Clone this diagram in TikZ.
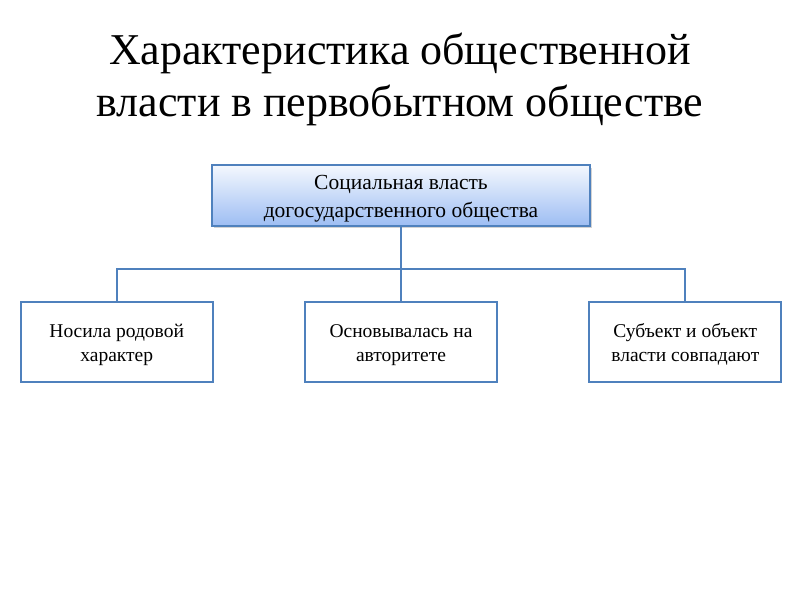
\documentclass[tikz,border=0pt]{standalone}
\usepackage{fontspec}
\setmainfont{Liberation Serif}
\usetikzlibrary{positioning,shadows}

\definecolor{boxline}{HTML}{4F81BD}
\definecolor{boxtop}{HTML}{F4F8FE}
\definecolor{boxbot}{HTML}{9DBDF3}
\newcommand\toppad{\rule{0pt}{1em}}

\begin{document}
\begin{tikzpicture}[x=1pt,y=-1pt,
	every node/.style={font=\fontsize{19.5}{24}\selectfont, align=center},
	rootbox/.style={draw=boxline, line width=1.8pt, minimum width=378pt, minimum height=59pt,
		font=\fontsize{21.5}{28}\selectfont,
		top color=boxtop, bottom color=boxbot,
		drop shadow={shadow xshift=1.5pt, shadow yshift=-2.5pt, opacity=0.35}},
	leafbox/.style={draw=boxline, line width=1.8pt, fill=white, minimum width=192pt, minimum height=80pt},
	link/.style={draw=boxline, line width=1.8pt}]
	\useasboundingbox (0,0) rectangle (800,600);
	\node (title) [font=\fontsize{44}{52}\selectfont] at (400,79) {Характеристика общественной\\власти в первобытном обществе};

	\node (root) [rootbox] at (401,195.5) {\toppad Социальная власть\\догосударственного общества};
	\begin{scope}[node distance=74pt and 90.5pt]
	\node (mid) [leafbox, below=of root] {\toppad Основывалась на\\авторитете};
	\node (left) [leafbox, left=of mid] {\toppad Носила родовой\\характер};
	\node (right) [leafbox, right=of mid] {\toppad Субъект и объект\\власти совпадают};
	\end{scope}

	\coordinate (bus) at (401,269);
	\draw [link] (root) -- (bus) -- (mid);
	\draw [link] (left) |- (bus) -| (right);
\end{tikzpicture}
\end{document}
